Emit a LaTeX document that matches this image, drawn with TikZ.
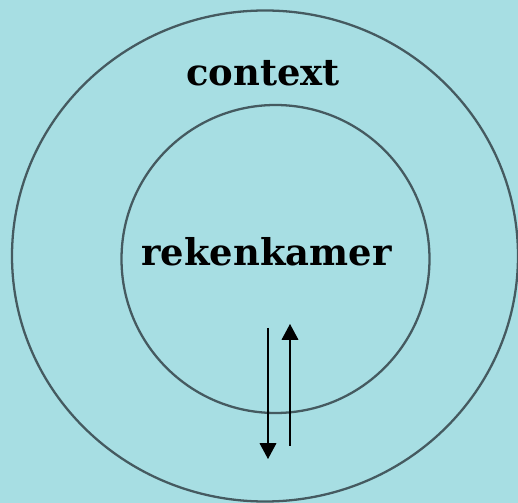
\documentclass[tikz,border=0pt]{standalone}
\usepackage{fontspec}
\setmainfont{DejaVu Serif}
\usetikzlibrary{arrows.meta}
\definecolor{bgcyan}{HTML}{A7DEE3}
\definecolor{ringgray}{HTML}{455A60}
\tikzset{
    ring/.style={draw=ringgray, line width=1.3pt},
    label/.style={font=\bfseries\fontsize{21}{25}\selectfont, inner sep=0pt},
    flow/.style={-{Triangle[length=9pt, width=9.5pt]}, line width=0.6pt}
}
\begin{document}
\begin{tikzpicture}[x=0.02cm, y=-0.02cm]
    % background, 518 x 503 px
    \fill[bgcyan] (0,0) rectangle (518,503);
    \useasboundingbox (0,0) rectangle (518,503);
    % outer ring (context) and inner ring (rekenkamer)
    \draw[ring] (265,256) ellipse [x radius=253, y radius=245.5];
    \draw[ring] (275.5,259) circle [radius=154];
    % labels
    \node[label, anchor=base] (ctx) at (263,86) {context};
    \node[label, anchor=base] (rek) at (266.5,266) {rekenkamer};
    % exchange between inside and outside
    \coordinate (downA) at (268,328);
    \coordinate (downB) at (268,459);
    \coordinate (upA) at (290,446);
    \coordinate (upB) at (290,324);
    \draw[flow] (downA) -- (downB);
    \draw[flow] (upA) -- (upB);
\end{tikzpicture}
\end{document}
